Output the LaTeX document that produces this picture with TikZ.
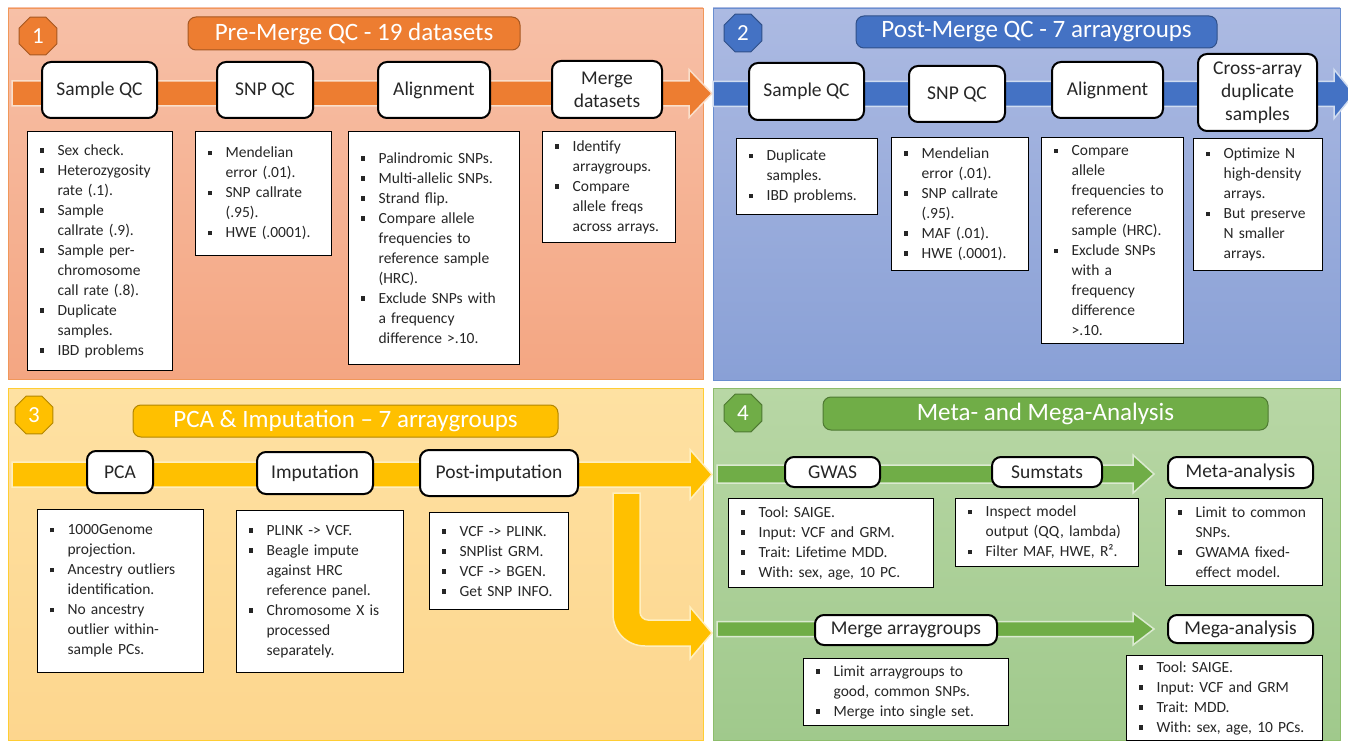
\documentclass[tikz,border=0pt]{standalone}
\usepackage{fontspec}
\setmainfont{Carlito}
\usetikzlibrary{shapes.geometric,calc}
\frenchspacing

\definecolor{orgA}{HTML}{ED7D31}
\definecolor{bluA}{HTML}{4472C4}
\definecolor{ylwA}{HTML}{FFC000}
\definecolor{grnA}{HTML}{70AD47}
\definecolor{orgTop}{RGB}{247,192,167}
\definecolor{orgBot}{RGB}{244,166,130}
\definecolor{bluTop}{RGB}{172,186,226}
\definecolor{bluBot}{RGB}{137,160,214}
\definecolor{ylwTop}{RGB}{254,225,162}
\definecolor{ylwBot}{RGB}{253,214,142}
\definecolor{grnTop}{RGB}{184,215,165}
\definecolor{grnBot}{RGB}{160,201,140}

% bullet line and continuation line
\newcommand{\bl}{\makebox[22pt][l]{\hspace{4pt}\rule[2.5pt]{4.5pt}{4.5pt}}}
\newcommand{\ct}{\makebox[22pt]{}}

% wide flow arrow: colour, start, tip, shaft half, head half, head length
\newcommand{\flowband}[6]{%
  \path[band=#1] let \p1=(#2), \p2=(#3) in
    (\x1,{\y1+#4pt}) -- ({\x2-#6pt},{\y1+#4pt}) -- ({\x2-#6pt},{\y1+#5pt}) -- (\p2)
    -- ({\x2-#6pt},{\y1-#5pt}) -- ({\x2-#6pt},{\y1-#4pt}) -- (\x1,{\y1-#4pt}) -- cycle;}

\begin{document}
\begin{tikzpicture}[x=1pt, y=-1pt,
    panel/.style={draw=#1!80, line width=0.8pt},
    band/.style={fill=#1, draw=white!75!#1, line width=1.5pt},
    badge/.style={regular polygon, regular polygon sides=8, minimum size=41pt, inner sep=0pt,
      fill=#1, draw=#1!70!black, line width=1pt, text=white, font=\fontsize{23}{23}\selectfont},
    headbox/.style={rounded corners=8pt, fill=#1, draw=#1!70!black, line width=1pt,
      text=white, inner sep=0pt, font=\fontsize{25}{25}\selectfont},
    stagebox/.style={draw=black, fill=white, line width=2pt, rounded corners=9pt, align=center,
      inner sep=2pt, text=black!85, font=\fontsize{19.5}{23}\selectfont},
    notebox/.style={draw=black, fill=white, line width=1.2pt, anchor=north west, align=left,
      inner xsep=8pt, inner ysep=3pt, text=black!85, font=\fontsize{15.5}{20}\selectfont}]

  \useasboundingbox (0,0) rectangle (1348,743);

  % quadrants
  \draw[panel=orgA, top color=orgTop, bottom color=orgBot] (8,8) rectangle (703,379);
  \draw[panel=bluA, top color=bluTop, bottom color=bluBot] (713,8) rectangle (1340,380);
  \draw[panel=ylwA, top color=ylwTop, bottom color=ylwBot] (8,388) rectangle (703,740);
  \draw[panel=grnA, top color=grnTop, bottom color=grnBot] (713,388) rectangle (1340,740);

  % flow arrows
  \coordinate (o-in) at (12,93.5);    \coordinate (o-out) at (712,93.5);
  \coordinate (b-in) at (713,94);     \coordinate (b-out) at (1354,94);
  \coordinate (y-in) at (12,474.5);   \coordinate (y-out) at (712,474.5);
  \coordinate (g-in) at (717,474);    \coordinate (g-out) at (1154,474);
  \coordinate (h-in) at (717,629);    \coordinate (h-out) at (1154,629);
  \flowband{orgA}{o-in}{o-out}{12.5}{24}{23}
  \flowband{bluA}{b-in}{b-out}{12.5}{24.5}{20}
  \flowband{ylwA}{y-in}{y-out}{12.5}{25}{22}
  \flowband{grnA}{g-in}{g-out}{9}{19}{21}
  \flowband{grnA}{h-in}{h-out}{7.5}{16}{21}
  % bent arrow down to the mega branch
  \path[band=ylwA] (613,493) -- (640,493) -- (640,612) .. controls (640,616.4) and (643.6,620) .. (648,620)
    -- (690,620) -- (690,607) -- (712,633) -- (690,659) -- (690,646) -- (645,646)
    .. controls (627,646) and (613,632) .. (613,614) -- cycle;

  % 1: pre-merge
  \node[badge=orgA] (n1) at (38,36) {1};
  \node[headbox=orgA, minimum width=332pt, minimum height=33pt] (t1) at (354,33.5) {Pre-Merge QC - 19 datasets};
  \node[stagebox, minimum width=115pt, minimum height=56pt] (p1sample) at (99.5,90) {Sample QC};
  \node[stagebox, minimum width=96pt, minimum height=56pt] (p1snp) at (265,90) {SNP QC};
  \node[stagebox, minimum width=112pt, minimum height=56pt] (p1align) at (434,90) {Alignment};
  \node[stagebox, minimum width=110pt, minimum height=57pt] (p1merge) at (607,89.5) {Merge\\datasets};
  \node[notebox, text width=129pt, minimum height=239pt] (p1sampleN) at (27,131) {%
    \bl Sex check.\\ \bl Heterozygosity\\ \ct rate (.1).\\ \bl Sample\\ \ct callrate (.9).\\
    \bl Sample per-\\ \ct chromosome\\ \ct call rate (.8).\\ \bl Duplicate\\ \ct samples.\\ \bl IBD problems};
  \node[notebox, text width=120pt, minimum height=124pt] (p1snpN) at (195,131) {%
    \bl Mendelian\\ \ct error (.01).\\ \bl SNP callrate\\ \ct (.95).\\ \bl HWE (.0001).};
  \node[notebox, text width=155pt, minimum height=233pt] (p1alignN) at (348,131) {%
    \bl Palindromic SNPs.\\ \bl Multi-allelic SNPs.\\ \bl Strand flip.\\
    \bl Compare allele\\ \ct frequencies to\\ \ct reference sample\\ \ct (HRC).\\
    \bl Exclude SNPs with\\ \ct a frequency\\ \ct difference >.10.};
  \node[notebox, text width=117pt, minimum height=111pt] (p1mergeN) at (542,131) {%
    \bl Identify\\ \ct arraygroups.\\ \bl Compare\\ \ct allele freqs\\ \ct across arrays.};

  % 2: post-merge
  \node[badge=bluA] (n2) at (743,33) {2};
  \node[headbox=bluA, minimum width=361pt, minimum height=32pt] (t2) at (1036.5,32) {Post-Merge QC - 7 arraygroups};
  \node[stagebox, minimum width=115pt, minimum height=57pt] (p2sample) at (806.5,91.5) {Sample QC};
  \node[stagebox, minimum width=96pt, minimum height=56pt] (p2snp) at (957,94) {SNP QC};
  \node[stagebox, minimum width=111pt, minimum height=56pt] (p2align) at (1107.5,90) {Alignment};
  \node[stagebox, minimum width=119pt, minimum height=77pt] (p2cross) at (1257.5,92.5) {Cross-array\\duplicate\\samples};
  \node[notebox, text width=125pt, minimum height=76pt] (p2sampleN) at (736,138) {%
    \bl Duplicate\\ \ct samples.\\ \bl IBD problems.};
  \node[notebox, text width=121pt, minimum height=133pt] (p2snpN) at (891,137) {%
    \bl Mendelian\\ \ct error (.01).\\ \bl SNP callrate\\ \ct (.95).\\ \bl MAF (.01).\\ \bl HWE (.0001).};
  \node[notebox, text width=126pt, minimum height=206pt] (p2alignN) at (1041,137) {%
    \bl Compare\\ \ct allele\\ \ct frequencies to\\ \ct reference\\ \ct sample (HRC).\\
    \bl Exclude SNPs\\ \ct with a\\ \ct frequency\\ \ct difference\\ \ct >.10.};
  \node[notebox, text width=113pt, minimum height=132pt] (p2crossN) at (1193,138) {%
    \bl Optimize N\\ \ct high-density\\ \ct arrays.\\ \bl But preserve\\ \ct N smaller\\ \ct arrays.};

  % 3: pca and imputation
  \node[badge=ylwA] (n3) at (34,415) {3};
  \node[headbox=ylwA, minimum width=425pt, minimum height=32pt] (t3) at (345.5,421) {PCA \& Imputation – 7 arraygroups};
  \node[stagebox, minimum width=66pt, minimum height=42pt] (p3pca) at (120,472) {PCA};
  \node[stagebox, minimum width=116pt, minimum height=42pt] (p3imp) at (315,473) {Imputation};
  \node[stagebox, minimum width=158pt, minimum height=46pt] (p3post) at (499,473) {Post-imputation};
  \node[notebox, text width=150pt, minimum height=163pt] (p3pcaN) at (37,509) {%
    \bl 1000Genome\\ \ct projection.\\ \bl Ancestry outliers\\ \ct identification.\\
    \bl No ancestry\\ \ct outlier within-\\ \ct sample PCs.};
  \node[notebox, text width=151pt, minimum height=162pt] (p3impN) at (236,510) {%
    \bl PLINK -> VCF.\\ \bl Beagle impute\\ \ct against HRC\\ \ct reference panel.\\
    \bl Chromosome X is\\ \ct processed\\ \ct separately.};
  \node[notebox, text width=123pt, minimum height=97pt] (p3postN) at (429,512) {%
    \bl VCF -> PLINK.\\ \bl SNPlist GRM.\\ \bl VCF -> BGEN.\\ \bl Get SNP INFO.};

  % 4: meta and mega
  \node[badge=grnA] (n4) at (743,413) {4};
  \node[headbox=grnA, minimum width=445pt, minimum height=33pt] (t4) at (1045.5,413.5) {Meta- and Mega-Analysis};
  \node[stagebox, minimum width=95pt, minimum height=30pt] (p4gwas) at (832.5,472) {GWAS};
  \node[stagebox, minimum width=110pt, minimum height=30pt] (p4sum) at (1047,472) {Sumstats};
  \node[stagebox, minimum width=145pt, minimum height=31pt] (p4meta) at (1240.5,472.5) {Meta-analysis};
  \node[stagebox, minimum width=182pt, minimum height=30pt] (p4merge) at (906,630) {Merge arraygroups};
  \node[stagebox, minimum width=145pt, minimum height=28pt] (p4mega) at (1240.5,629) {Mega-analysis};
  \node[notebox, text width=189pt, minimum height=89pt] (p4gwasN) at (728,498) {%
    \bl Tool: SAIGE.\\ \bl Input: VCF and GRM.\\ \bl Trait: Lifetime MDD.\\ \bl With: sex, age, 10 PC.};
  \node[notebox, text width=167pt, minimum height=68pt] (p4sumN) at (955,498) {%
    \bl Inspect model\\ \ct output (QQ, lambda)\\ \bl Filter MAF, HWE, R².};
  \node[notebox, text width=141pt, minimum height=87pt] (p4metaN) at (1165,498) {%
    \bl Limit to common\\ \ct SNPs.\\ \bl GWAMA fixed-\\ \ct effect model.};
  \node[notebox, text width=189pt, minimum height=67pt] (p4mergeN) at (803,658) {%
    \bl Limit arraygroups to\\ \ct good, common SNPs.\\ \bl Merge into single set.};
  \node[notebox, text width=180pt, minimum height=85pt] (p4megaN) at (1126,655) {%
    \bl Tool: SAIGE.\\ \bl Input: VCF and GRM\\ \bl Trait: MDD.\\ \bl With: sex, age, 10 PCs.};
\end{tikzpicture}
\end{document}
